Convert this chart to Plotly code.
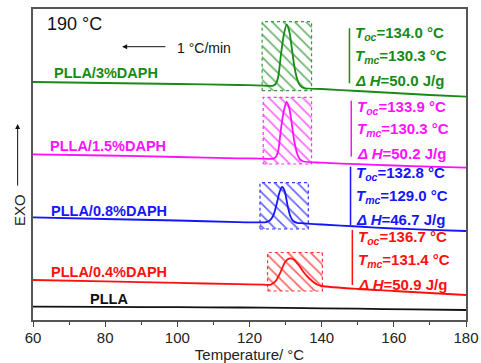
import plotly.graph_objects as go

# DSC cooling traces (heat flow, arbitrary units, curves offset vertically)
samples = ["PLLA", "PLLA/0.4%DAPH", "PLLA/0.8%DAPH", "PLLA/1.5%DAPH", "PLLA/3%DAPH"]
colors = ["#111111", "#ff1010", "#1515ff", "#ff10ff", "#178a17"]

temp_plla = [60, 80, 100, 117, 130, 150, 165, 180]
heat_plla = [13.3, 13.1, 12.8, 12.5, 12.1, 11.3, 10.6, 10.0]

temp_04 = [60, 80, 100, 117, 124, 125.8, 127.1, 128.0, 128.65, 129.8, 130.6, 131.4,
           132.3, 133.5, 134.9, 136.3, 137.7, 139.0, 140, 150, 160, 170, 180]
heat_04 = [40.0, 38.6, 37.1, 35.8, 35.3, 35.2, 38.3, 43.5, 48.3, 57.5, 60.8, 61.7,
           60.3, 55.5, 48.3, 42.5, 38.0, 35.0, 34.0, 31.0, 29.0, 27.0, 25.0]

temp_08 = [60, 80, 100, 117, 123, 124.6, 125.6, 126.6, 127.5, 128.3, 129.0, 129.7,
           130.5, 131.3, 132.1, 133.2, 135, 140, 150, 160, 170, 180]
heat_08 = [102.7, 101.0, 99.5, 97.9, 97.6, 97.8, 99.5, 104.5, 115.5, 127.5, 133.0, 129.5,
           115.5, 104.0, 99.0, 97.2, 96.7, 95.5, 93.5, 91.5, 90.2, 89.0]

temp_15 = [60, 80, 100, 117, 124, 126.6, 127.4, 128.0, 128.7, 129.5, 130.3, 131.0,
           131.8, 132.5, 133.3, 134.0, 135, 140, 150, 160, 170, 180]
heat_15 = [165.7, 164.5, 163.0, 161.7, 161.3, 161.3, 163.5, 170.0, 190.5, 209.0, 218.0, 212.0,
           194.0, 177.0, 165.5, 160.5, 158.5, 157.3, 155.8, 154.5, 153.3, 152.3]

temp_3 = [60, 80, 100, 117, 124, 126.6, 127.4, 128.0, 128.7, 129.5, 130.3, 131.0,
          131.8, 132.5, 133.3, 134.0, 135, 140, 150, 160, 170, 180]
heat_3 = [238.0, 237.0, 236.0, 235.0, 234.4, 234.3, 237.0, 244.0, 265.0, 285.0, 295.3, 289.0,
          270.0, 252.0, 240.0, 234.5, 232.0, 231.0, 229.0, 227.0, 225.0, 223.3]

temps = [temp_plla, temp_04, temp_08, temp_15, temp_3]
heats = [heat_plla, heat_04, heat_08, heat_15, heat_3]

# crystallization windows (temperature span, signal span) for each nucleated sample
win_t0 = [125.0, 122.9, 123.8, 123.5]
win_t1 = [140.2, 136.3, 137.2, 137.2]
win_h0 = [29.0, 91.0, 156.0, 229.3]
win_h1 = [67.5, 137.3, 222.7, 298.3]

# onset / peak crystallization temperatures and enthalpy
t_oc = ["136.7", "132.8", "133.9", "134.0"]
t_mc = ["131.4", "129.0", "130.3", "130.3"]
d_h = ["50.9", "46.7", "50.2", "50.0"]

# label anchors (temperature, signal)
label_t = [75.2, 64.4, 64.4, 64.2, 65.2]
label_h = [21.0, 48.3, 109.3, 174.3, 246.7]
info_t = [149.4, 148.9, 149.1, 148.8]
info_h = [[82.5, 59.5, 36.0], [147.0, 124.0, 101.0], [212.7, 190.7, 166.7], [286.7, 263.3, 240.0]]
bar_t = [148.5, 148.0, 148.2, 147.7]
bar_h = [[35.0, 90.0], [95.0, 153.3], [163.3, 219.3], [236.7, 291.7]]

FONT = "Arial, Liberation Sans, sans-serif"

fig = go.Figure()

for i in range(4):
    c = colors[i + 1]
    fig.add_trace(go.Scatter(
        x=[win_t0[i], win_t1[i], win_t1[i], win_t0[i], win_t0[i]],
        y=[win_h0[i], win_h0[i], win_h1[i], win_h1[i], win_h0[i]],
        mode="lines", fill="toself", fillcolor="rgba(0,0,0,0)",
        fillpattern=dict(shape="\\", fgcolor=c, bgcolor="rgba(0,0,0,0)",
                         size=8, solidity=0.22, fgopacity=0.75),
        line=dict(color=c, width=1.2, dash="dot"), opacity=0.85,
        hoverinfo="skip", showlegend=False))

for t, h, c in zip(temps, heats, colors):
    fig.add_trace(go.Scatter(x=t, y=h, mode="lines",
                             line=dict(color=c, width=1.8, shape="spline", smoothing=0.8),
                             showlegend=False))

annotations = []
for name, c, lt, lh in zip(samples, colors, label_t, label_h):
    annotations.append(dict(x=lt, y=lh, xref="x", yref="y", text=f"<b>{name}</b>",
                            showarrow=False, xanchor="left", yanchor="middle",
                            font=dict(family=FONT, size=14.5, color=c)))

shapes = []
for i in range(4):
    c = colors[i + 1]
    lines = [f"<b><i>T</i><sub><i>oc</i></sub>={t_oc[i]} °C</b>",
             f"<b><i>T</i><sub><i>mc</i></sub>={t_mc[i]} °C</b>",
             f"<b><i>Δ H</i>={d_h[i]} J/g</b>"]
    for txt, hy in zip(lines, info_h[i]):
        annotations.append(dict(x=info_t[i], y=hy, xref="x", yref="y", text=txt,
                                showarrow=False, xanchor="left", yanchor="middle",
                                font=dict(family=FONT, size=15, color=c)))
    shapes.append(dict(type="line", xref="x", yref="y", x0=bar_t[i], x1=bar_t[i],
                       y0=bar_h[i][0], y1=bar_h[i][1], line=dict(color=c, width=1.5)))

annotations += [
    dict(x=63.3, y=296, xref="x", yref="y", text="190 °C", showarrow=False,
         xanchor="left", yanchor="middle", font=dict(family=FONT, size=18, color="#111")),
    dict(x=99.4, y=272, xref="x", yref="y", text="1 °C/min", showarrow=False,
         xanchor="left", yanchor="middle", font=dict(family=FONT, size=14, color="#111")),
    dict(x=84.7, y=273.3, xref="x", yref="y", ax=97.1, ay=273.3, axref="x", ayref="y",
         text="", showarrow=True, arrowhead=2, arrowsize=1, arrowwidth=1, arrowcolor="#111"),
    dict(x=-0.030, y=0.354, xref="paper", yref="paper", text="EXO", textangle=-90,
         xanchor="center", yanchor="middle",
         showarrow=False, font=dict(family=FONT, size=15, color="#222")),
    dict(x=-0.0355, y=0.63, xref="paper", yref="paper", ax=0, ay=63, text="",
         showarrow=True, arrowhead=2, arrowsize=1, arrowwidth=1, arrowcolor="#111"),
]

fig.update_layout(
    width=481, height=363,
    margin=dict(l=33, r=15, t=9, b=43),
    paper_bgcolor="white", plot_bgcolor="white",
    annotations=annotations, shapes=shapes,
    xaxis=dict(range=[60, 180], dtick=20, ticks="outside", ticklen=5, tickwidth=1.2,
               tickcolor="#444", showline=True, linecolor="#555", linewidth=1.5,
               mirror=True, showgrid=False, zeroline=False, automargin=False,
               ticklabelstandoff=-2,
               minor=dict(dtick=10, ticks="outside", ticklen=3, tickcolor="#444"),
               tickfont=dict(family=FONT, size=15, color="#222"),
               title=dict(text="Temperature/ °C", standoff=2,
                          font=dict(family=FONT, size=15, color="#222"))),
    yaxis=dict(range=[0, 311], showticklabels=False, ticks="", showline=True,
               linecolor="#555", linewidth=1.5, mirror=True, showgrid=False,
               zeroline=False, automargin=False),
)

fig.write_html("out.html")
